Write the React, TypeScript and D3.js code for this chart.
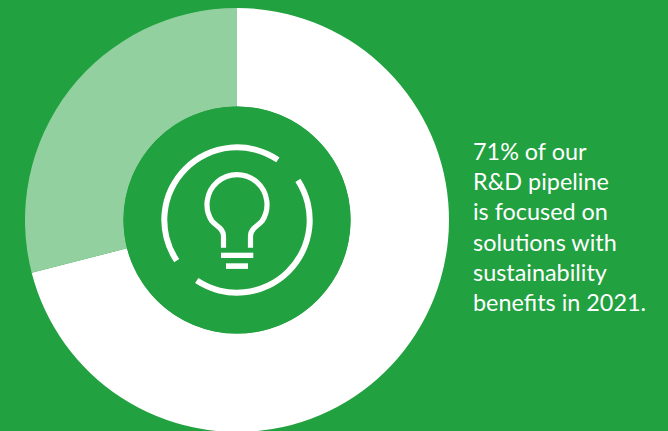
import React from "react";
import * as d3 from "d3";

// Share of the R&D pipeline, in percent
const segmentNames = ["Sustainability benefits", "Other"];
const segmentValues = [71, 29];
const caption = [
  "71% of our",
  "R&D pipeline",
  "is focused on",
  "solutions with",
  "sustainability",
  "benefits in 2021.",
];

const WIDTH = 668;
const HEIGHT = 431;
const GREEN = "#21a13f";
const PALE = "#93d0a0";
const CX = 237;
const CY = 220;

const pie = d3.pie<number>().sort(null);
const ring = d3.arc<d3.PieArcDatum<number>>().innerRadius(113.5).outerRadius(212);
const deg = (a: number) => (a * Math.PI) / 180;
const halo = d3.arc<{ startAngle: number; endAngle: number }>().innerRadius(69.7).outerRadius(75.7);
const haloSweeps = [
  { startAngle: deg(-124), endAngle: deg(34.2) },
  { startAngle: deg(56.9), endAngle: deg(213.6) },
];

export default function App() {
  const slices = pie(segmentValues);
  return (
    <svg
      width={WIDTH}
      height={HEIGHT}
      viewBox={`0 0 ${WIDTH} ${HEIGHT}`}
      style={{ position: "absolute", left: 0, top: 0, display: "block" }}
    >
      <rect width={WIDTH} height={HEIGHT} fill={GREEN} />
      <g transform={`translate(${CX},${CY})`}>
        {slices.map((s, i) => (
          <path key={segmentNames[i]} d={ring(s) ?? ""} fill={i === 0 ? "#ffffff" : PALE} />
        ))}
        <circle r={113.6} fill={GREEN} />
        {haloSweeps.map((s, i) => (
          <path key={i} d={halo(s) ?? ""} fill="#ffffff" />
        ))}
        {/* light bulb icon */}
        <path
          d="M-13.5 27.7 V16 C-13.5 8 -21 6 -25 1.2 A30 30 0 1 1 25 1.2 C21 6 13.5 8 13.5 16 V27.7"
          fill="none"
          stroke="#ffffff"
          strokeWidth={5.2}
        />
        <rect x={-16} y={32.7} width={32.3} height={5.3} fill="#ffffff" />
        <rect x={-11} y={43.3} width={22} height={5.6} fill="#ffffff" />
      </g>
      <text fill="#ffffff" fontFamily="Lato" fontSize={23.4} fontWeight={400}>
        {caption.map((line, i) => (
          <tspan key={line} x={473} y={160 + i * 30.2}>
            {line}
          </tspan>
        ))}
      </text>
    </svg>
  );
}
